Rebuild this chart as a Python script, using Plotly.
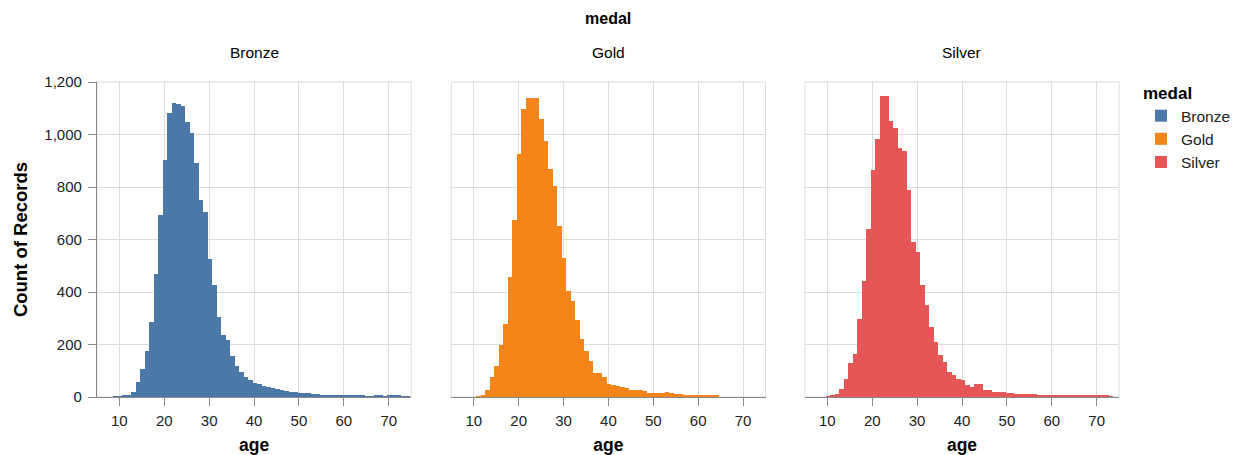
import plotly.graph_objects as go

# ---------------- data ----------------
medals = ["Bronze", "Gold", "Silver"]

bronze_ages = list(range(9, 75))
bronze_counts = [2, 3, 5, 9, 20, 58, 107, 175, 287, 467, 695, 904, 1083, 1119, 1117, 1110,
                 1047, 1005, 891, 749, 704, 524, 425, 305, 237, 218, 156, 117, 95, 76, 63,
                 55, 48, 43, 38, 34, 29, 25, 22, 20, 19, 16, 17, 17, 11, 10, 9, 8, 7, 7, 6,
                 6, 5, 5, 4, 4, 3, 3, 4, 5, 3, 5, 6, 4, 3, 2]

gold_ages = list(range(11, 65))
gold_counts = [2, 8, 27, 76, 118, 200, 279, 459, 675, 926, 1098, 1140, 1140, 1138, 1060,
               977, 867, 802, 653, 529, 402, 365, 294, 222, 174, 137, 91, 91, 76, 50, 47,
               42, 40, 36, 27, 27, 25, 23, 15, 15, 14, 16, 18, 14, 12, 10, 8, 8, 6, 4, 4,
               7, 7, 4]

silver_ages = list(range(10, 74))
silver_counts = [2, 5, 10, 32, 70, 129, 165, 298, 442, 641, 863, 983, 1145, 1145, 1051,
                 1025, 949, 939, 789, 590, 552, 428, 349, 266, 209, 159, 133, 95, 82, 70,
                 63, 44, 38, 48, 48, 28, 28, 19, 19, 18, 16, 14, 13, 13, 11, 10, 10, 9, 8,
                 6, 5, 4, 4, 5, 5, 4, 5, 5, 5, 4, 5, 4, 4, 3]

x_ticks = [10, 20, 30, 40, 50, 60, 70]
y_ticks = [0, 200, 400, 600, 800, 1000, 1200]

# ---------------- style ----------------
COLORS = {"Bronze": "#4c78a8", "Gold": "#f58518", "Silver": "#e45756"}
BIN_OFFSET = -0.33
FONT = "Helvetica, Liberation Sans, Arial, sans-serif"
OFF = 8                      # page body margin
W, H = 1248 - OFF, 455 - OFF


def fx(px):
    return (px - OFF) / W


def fy(py):
    return 1 - (py - OFF) / H


PANEL_PX = [(96.9, 411.2), (451.3, 765.5), (804.9, 1119.1)]
X_DOMAINS = [(fx(a), fx(b)) for a, b in PANEL_PX]
Y_DOMAIN = (fy(397), fy(82))

series = {
    "Bronze": (bronze_ages, bronze_counts),
    "Gold": (gold_ages, gold_counts),
    "Silver": (silver_ages, silver_counts),
}

fig = go.Figure()
for i, m in enumerate(medals):
    ages, counts = series[m]
    sfx = "" if i == 0 else str(i + 1)
    fig.add_trace(go.Bar(
        x=ages, y=counts, width=1, offset=BIN_OFFSET,
        marker=dict(color=COLORS[m], line=dict(width=0)),
        name=m, legendgroup=m,
        xaxis="x" + sfx, yaxis="y" + sfx,
    ))

    xa = dict(
        domain=list(X_DOMAINS[i]), range=[5, 75], anchor="y" + sfx, automargin=False,
        tickvals=x_ticks, ticks="outside", ticklen=8, tickcolor="#888", ticklabelstandoff=2,
        showgrid=True, gridcolor="#ddd", gridwidth=1, zeroline=False,
        showline=True, linecolor="#888", linewidth=1,
        tickfont=dict(family=FONT, size=15, color="#222"),
        title=dict(text="<b>age</b>", font=dict(family=FONT, size=17.5, color="#000"), standoff=13),
    )
    ya = dict(
        domain=list(Y_DOMAIN), range=[0, 1200], anchor="x" + sfx, automargin=False,
        tickvals=y_ticks, showgrid=True, gridcolor="#ddd", gridwidth=1, zeroline=False,
    )
    if i == 0:
        ya.update(
            ticks="outside", ticklen=8, tickcolor="#888", tickformat=",", ticklabelstandoff=3,
            showline=True, linecolor="#888", linewidth=1,
            tickfont=dict(family=FONT, size=15, color="#222"),
            title=dict(text="<b>Count of Records</b>", font=dict(family=FONT, size=18.5, color="#000"),
                       standoff=11),
        )
    else:
        ya.update(showticklabels=False, ticks="", showline=False, matches="y")
    fig.layout["xaxis" + sfx] = xa
    fig.layout["yaxis" + sfx] = ya

    # light frame around each view
    fig.add_shape(type="rect", xref="x" + sfx + " domain", yref="y" + sfx + " domain",
                  x0=0, x1=1, y0=0, y1=1, line=dict(color="#ddd", width=1), layer="below")

    # facet header
    fig.add_annotation(text=m, x=(X_DOMAINS[i][0] + X_DOMAINS[i][1]) / 2, y=fy(53),
                       xref="paper", yref="paper", showarrow=False,
                       xanchor="center", yanchor="middle",
                       font=dict(family=FONT, size=15.5, color="#000"))

fig.add_annotation(text="<b>medal</b>", x=(X_DOMAINS[0][0] + X_DOMAINS[2][1]) / 2, y=1,
                   xref="paper", yref="paper", showarrow=False,
                   xanchor="center", yanchor="top",
                   font=dict(family=FONT, size=16, color="#000"))

fig.update_layout(
    width=W, height=H, autosize=False,
    margin=dict(l=0, r=0, t=0, b=0),
    paper_bgcolor="white", plot_bgcolor="white",
    bargap=0,
    legend=dict(
        title=dict(text="<b>medal</b>", font=dict(family=FONT, size=17, color="#000")),
        font=dict(family=FONT, size=15.5, color="#222"),
        x=fx(1141), y=fy(77), xanchor="left", yanchor="top",
        tracegroupgap=0, bgcolor="rgba(0,0,0,0)",
    ),
)

fig.write_html("out.html")
